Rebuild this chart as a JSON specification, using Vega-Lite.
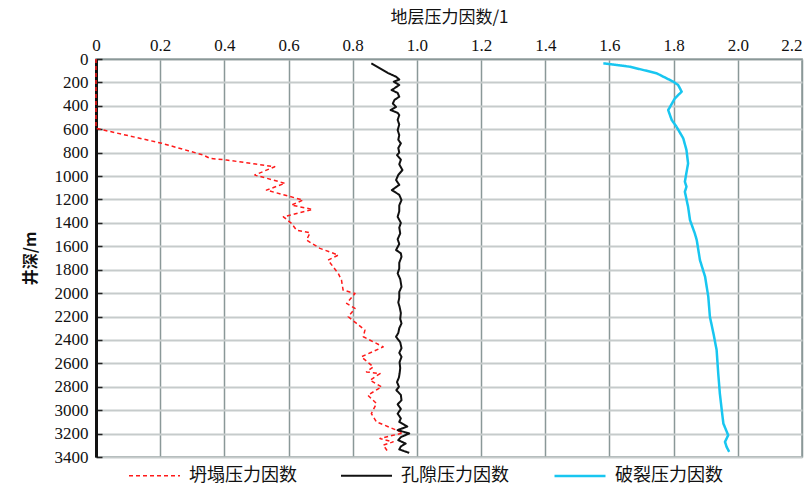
{
  "$schema": "https://vega.github.io/schema/vega-lite/v6.json",
  "width": 706,
  "height": 398,
  "autosize": {"type": "none"},
  "padding": {"left": 96, "top": 59, "right": 8, "bottom": 31},
  "background": "white",
  "config": {
    "view": {"stroke": "#8a9898", "strokeWidth": 1.5},
    "font": "Liberation Serif"
  },
  "data": {
    "values": [
      {"s": "坍塌压力因数", "d": 0, "v": 0},
      {"s": "坍塌压力因数", "d": 592, "v": 0},
      {"s": "坍塌压力因数", "d": 720, "v": 0.205},
      {"s": "坍塌压力因数", "d": 820, "v": 0.334},
      {"s": "坍塌压力因数", "d": 849, "v": 0.355},
      {"s": "坍塌压力因数", "d": 863, "v": 0.407},
      {"s": "坍塌压力因数", "d": 920, "v": 0.557},
      {"s": "坍塌压力因数", "d": 991, "v": 0.495},
      {"s": "坍塌压力因数", "d": 1062, "v": 0.589},
      {"s": "坍塌压力因数", "d": 1120, "v": 0.531},
      {"s": "坍塌压力因数", "d": 1205, "v": 0.645},
      {"s": "坍塌压力因数", "d": 1248, "v": 0.609},
      {"s": "坍塌压力因数", "d": 1285, "v": 0.675},
      {"s": "坍塌压力因数", "d": 1348, "v": 0.584},
      {"s": "坍塌压力因数", "d": 1404, "v": 0.609},
      {"s": "坍塌压力因数", "d": 1462, "v": 0.625},
      {"s": "坍塌压力因数", "d": 1485, "v": 0.667},
      {"s": "坍塌压力因数", "d": 1547, "v": 0.656},
      {"s": "坍塌压力因数", "d": 1618, "v": 0.698},
      {"s": "坍塌压力因数", "d": 1675, "v": 0.755},
      {"s": "坍塌压力因数", "d": 1718, "v": 0.723},
      {"s": "坍塌压力因数", "d": 1832, "v": 0.755},
      {"s": "坍塌压力因数", "d": 1889, "v": 0.765},
      {"s": "坍塌压力因数", "d": 1974, "v": 0.770},
      {"s": "坍塌压力因数", "d": 2003, "v": 0.807},
      {"s": "坍塌压力因数", "d": 2088, "v": 0.781},
      {"s": "坍塌压力因数", "d": 2131, "v": 0.807},
      {"s": "坍塌压力因数", "d": 2202, "v": 0.786},
      {"s": "坍塌压力因数", "d": 2259, "v": 0.812},
      {"s": "坍塌压力因数", "d": 2316, "v": 0.838},
      {"s": "坍塌压力因数", "d": 2373, "v": 0.833},
      {"s": "坍塌压力因数", "d": 2459, "v": 0.895},
      {"s": "坍塌压力因数", "d": 2544, "v": 0.827},
      {"s": "坍塌压力因数", "d": 2630, "v": 0.864},
      {"s": "坍塌压力因数", "d": 2673, "v": 0.843},
      {"s": "坍塌压力因数", "d": 2687, "v": 0.885},
      {"s": "坍塌压力因数", "d": 2744, "v": 0.854},
      {"s": "坍塌压力因数", "d": 2801, "v": 0.890},
      {"s": "坍塌压力因数", "d": 2872, "v": 0.847},
      {"s": "坍塌压力因数", "d": 2943, "v": 0.874},
      {"s": "坍塌压力因数", "d": 3029, "v": 0.858},
      {"s": "坍塌压力因数", "d": 3100, "v": 0.874},
      {"s": "坍塌压力因数", "d": 3194, "v": 0.957},
      {"s": "坍塌压力因数", "d": 3242, "v": 0.885},
      {"s": "坍塌压力因数", "d": 3271, "v": 0.926},
      {"s": "坍塌压力因数", "d": 3299, "v": 0.895},
      {"s": "坍塌压力因数", "d": 3356, "v": 0.910},
      {"s": "孔隙压力因数", "d": 37, "v": 0.858},
      {"s": "孔隙压力因数", "d": 80, "v": 0.885},
      {"s": "孔隙压力因数", "d": 120, "v": 0.910},
      {"s": "孔隙压力因数", "d": 151, "v": 0.935},
      {"s": "孔隙压力因数", "d": 175, "v": 0.945},
      {"s": "孔隙压力因数", "d": 194, "v": 0.928},
      {"s": "孔隙压力因数", "d": 222, "v": 0.945},
      {"s": "孔隙压力因数", "d": 250, "v": 0.930},
      {"s": "孔隙压力因数", "d": 265, "v": 0.921},
      {"s": "孔隙压力因数", "d": 290, "v": 0.940},
      {"s": "孔隙压力因数", "d": 322, "v": 0.945},
      {"s": "孔隙压力因数", "d": 350, "v": 0.930},
      {"s": "孔隙压力因数", "d": 380, "v": 0.925},
      {"s": "孔隙压力因数", "d": 410, "v": 0.935},
      {"s": "孔隙压力因数", "d": 436, "v": 0.918},
      {"s": "孔隙压力因数", "d": 460, "v": 0.940},
      {"s": "孔隙压力因数", "d": 479, "v": 0.945},
      {"s": "孔隙压力因数", "d": 520, "v": 0.940},
      {"s": "孔隙压力因数", "d": 560, "v": 0.945},
      {"s": "孔隙压力因数", "d": 607, "v": 0.940},
      {"s": "孔隙压力因数", "d": 650, "v": 0.945},
      {"s": "孔隙压力因数", "d": 690, "v": 0.942},
      {"s": "孔隙压力因数", "d": 721, "v": 0.950},
      {"s": "孔隙压力因数", "d": 760, "v": 0.942},
      {"s": "孔隙压力因数", "d": 800, "v": 0.945},
      {"s": "孔隙压力因数", "d": 821, "v": 0.938},
      {"s": "孔隙压力因数", "d": 860, "v": 0.950},
      {"s": "孔隙压力因数", "d": 900, "v": 0.945},
      {"s": "孔隙压力因数", "d": 949, "v": 0.955},
      {"s": "孔隙压力因数", "d": 990, "v": 0.942},
      {"s": "孔隙压力因数", "d": 1034, "v": 0.935},
      {"s": "孔隙压力因数", "d": 1075, "v": 0.945},
      {"s": "孔隙压力因数", "d": 1120, "v": 0.922},
      {"s": "孔隙压力因数", "d": 1160, "v": 0.945},
      {"s": "孔隙压力因数", "d": 1205, "v": 0.952},
      {"s": "孔隙压力因数", "d": 1250, "v": 0.945},
      {"s": "孔隙压力因数", "d": 1300, "v": 0.945},
      {"s": "孔隙压力因数", "d": 1348, "v": 0.940},
      {"s": "孔隙压力因数", "d": 1400, "v": 0.950},
      {"s": "孔隙压力因数", "d": 1440, "v": 0.945},
      {"s": "孔隙压力因数", "d": 1490, "v": 0.948},
      {"s": "孔隙压力因数", "d": 1540, "v": 0.940},
      {"s": "孔隙压力因数", "d": 1580, "v": 0.945},
      {"s": "孔隙压力因数", "d": 1632, "v": 0.935},
      {"s": "孔隙压力因数", "d": 1660, "v": 0.950},
      {"s": "孔隙压力因数", "d": 1690, "v": 0.952},
      {"s": "孔隙压力因数", "d": 1740, "v": 0.945},
      {"s": "孔隙压力因数", "d": 1790, "v": 0.945},
      {"s": "孔隙压力因数", "d": 1832, "v": 0.940},
      {"s": "孔隙压力因数", "d": 1880, "v": 0.948},
      {"s": "孔隙压力因数", "d": 1946, "v": 0.952},
      {"s": "孔隙压力因数", "d": 1990, "v": 0.945},
      {"s": "孔隙压力因数", "d": 2040, "v": 0.945},
      {"s": "孔隙压力因数", "d": 2080, "v": 0.942},
      {"s": "孔隙压力因数", "d": 2117, "v": 0.946},
      {"s": "孔隙压力因数", "d": 2170, "v": 0.950},
      {"s": "孔隙压力因数", "d": 2220, "v": 0.948},
      {"s": "孔隙压力因数", "d": 2259, "v": 0.952},
      {"s": "孔隙压力因数", "d": 2300, "v": 0.945},
      {"s": "孔隙压力因数", "d": 2340, "v": 0.942},
      {"s": "孔隙压力因数", "d": 2373, "v": 0.935},
      {"s": "孔隙压力因数", "d": 2420, "v": 0.948},
      {"s": "孔隙压力因数", "d": 2470, "v": 0.952},
      {"s": "孔隙压力因数", "d": 2510, "v": 0.945},
      {"s": "孔隙压力因数", "d": 2544, "v": 0.952},
      {"s": "孔隙压力因数", "d": 2590, "v": 0.946},
      {"s": "孔隙压力因数", "d": 2640, "v": 0.948},
      {"s": "孔隙压力因数", "d": 2687, "v": 0.946},
      {"s": "孔隙压力因数", "d": 2720, "v": 0.944},
      {"s": "孔隙压力因数", "d": 2760, "v": 0.938},
      {"s": "孔隙压力因数", "d": 2800, "v": 0.944},
      {"s": "孔隙压力因数", "d": 2829, "v": 0.936},
      {"s": "孔隙压力因数", "d": 2870, "v": 0.950},
      {"s": "孔隙压力因数", "d": 2915, "v": 0.952},
      {"s": "孔隙压力因数", "d": 2950, "v": 0.940},
      {"s": "孔隙压力因数", "d": 2990, "v": 0.950},
      {"s": "孔隙压力因数", "d": 3030, "v": 0.940},
      {"s": "孔隙压力因数", "d": 3070, "v": 0.950},
      {"s": "孔隙压力因数", "d": 3100, "v": 0.945},
      {"s": "孔隙压力因数", "d": 3140, "v": 0.970},
      {"s": "孔隙压力因数", "d": 3170, "v": 0.940},
      {"s": "孔隙压力因数", "d": 3199, "v": 0.976},
      {"s": "孔隙压力因数", "d": 3230, "v": 0.950},
      {"s": "孔隙压力因数", "d": 3256, "v": 0.942},
      {"s": "孔隙压力因数", "d": 3285, "v": 0.965},
      {"s": "孔隙压力因数", "d": 3310, "v": 0.950},
      {"s": "孔隙压力因数", "d": 3335, "v": 0.945},
      {"s": "孔隙压力因数", "d": 3365, "v": 0.976},
      {"s": "破裂压力因数", "d": 37, "v": 1.581},
      {"s": "破裂压力因数", "d": 66, "v": 1.664},
      {"s": "破裂压力因数", "d": 122, "v": 1.747},
      {"s": "破裂压力因数", "d": 194, "v": 1.799},
      {"s": "破裂压力因数", "d": 222, "v": 1.814},
      {"s": "破裂压力因数", "d": 279, "v": 1.825},
      {"s": "破裂压力因数", "d": 336, "v": 1.804},
      {"s": "破裂压力因数", "d": 436, "v": 1.783},
      {"s": "破裂压力因数", "d": 521, "v": 1.794},
      {"s": "破裂压力因数", "d": 579, "v": 1.809},
      {"s": "破裂压力因数", "d": 678, "v": 1.830},
      {"s": "破裂压力因数", "d": 778, "v": 1.840},
      {"s": "破裂压力因数", "d": 892, "v": 1.845},
      {"s": "破裂压力因数", "d": 1048, "v": 1.835},
      {"s": "破裂压力因数", "d": 1091, "v": 1.840},
      {"s": "破裂压力因数", "d": 1134, "v": 1.835},
      {"s": "破裂压力因数", "d": 1262, "v": 1.845},
      {"s": "破裂压力因数", "d": 1376, "v": 1.851},
      {"s": "破裂压力因数", "d": 1490, "v": 1.866},
      {"s": "破裂压力因数", "d": 1547, "v": 1.872},
      {"s": "破裂压力因数", "d": 1632, "v": 1.877},
      {"s": "破裂压力因数", "d": 1718, "v": 1.882},
      {"s": "破裂压力因数", "d": 1860, "v": 1.898},
      {"s": "破裂压力因数", "d": 2031, "v": 1.908},
      {"s": "破裂压力因数", "d": 2202, "v": 1.913},
      {"s": "破裂压力因数", "d": 2344, "v": 1.924},
      {"s": "破裂压力因数", "d": 2487, "v": 1.934},
      {"s": "破裂压力因数", "d": 2687, "v": 1.939},
      {"s": "破裂压力因数", "d": 2858, "v": 1.944},
      {"s": "破裂压力因数", "d": 3000, "v": 1.950},
      {"s": "破裂压力因数", "d": 3114, "v": 1.955},
      {"s": "破裂压力因数", "d": 3214, "v": 1.970},
      {"s": "破裂压力因数", "d": 3271, "v": 1.960},
      {"s": "破裂压力因数", "d": 3313, "v": 1.965},
      {"s": "破裂压力因数", "d": 3356, "v": 1.973}
    ]
  },
  "mark": {"type": "line", "strokeJoin": "round", "strokeCap": "butt"},
  "encoding": {
    "x": {
      "field": "v", "type": "quantitative",
      "scale": {"domain": [0, 2.2], "nice": false, "zero": false},
      "axis": {
        "orient": "top", "title": "地层压力因数/1", "titleFont": "Noto Sans CJK SC", "titleFontWeight": "normal", "titleColor": "#111", "titleFontSize": 17, "titlePadding": 10,
        "values": [0, 0.2, 0.4, 0.6, 0.8, 1.0, 1.2, 1.4, 1.6, 1.8, 2.0, 2.2],
        "labelExpr": "datum.value == 0 ? '0' : format(datum.value, '.1f')",
        "labelFont": "Times New Roman", "labelFontSize": 17, "labelColor": "#111",
        "labelAlign": {"condition": {"test": "datum.value > 2.1", "value": "right"}, "value": "center"},
        "ticks": false, "labelPadding": 5, "labelFlush": false, "labelBound": false,
        "domainColor": "#8a9898", "domainWidth": 1.5,
        "grid": true, "gridColor": "#8a9898", "gridWidth": 1.5, "gridOpacity": 1
      }
    },
    "y": {
      "field": "d", "type": "quantitative",
      "scale": {"domain": [0, 3400], "reverse": true, "nice": false},
      "axis": {
        "title": "井深/m", "titleFont": "Noto Sans CJK SC", "titleColor": "#111", "titleFontSize": 16, "titleFontWeight": "bold", "titlePadding": 16,
        "values": [0, 200, 400, 600, 800, 1000, 1200, 1400, 1600, 1800, 2000, 2200, 2400, 2600, 2800, 3000, 3200, 3400],
        "format": "d",
        "labelFont": "Times New Roman", "labelFontSize": 17, "labelColor": "#111",
        "tickSize": -6, "tickColor": "#222", "tickWidth": 1.5, "labelPadding": 14, "labelFlush": false,
        "domainColor": "#111", "domainWidth": 3,
        "grid": true, "gridColor": "#c6cbcb", "gridWidth": 2, "gridOpacity": 1
      }
    },
    "order": {"field": "d", "type": "quantitative"},
    "color": {
      "field": "s", "type": "nominal",
      "scale": {"domain": ["坍塌压力因数", "孔隙压力因数", "破裂压力因数"], "range": ["#ff1a1a", "#111111", "#18c6f0"]},
      "legend": {
        "orient": "none", "legendX": 32, "legendY": 390, "direction": "horizontal",
        "title": null, "symbolType": "stroke", "symbolSize": 2600, "labelFont": "Noto Sans CJK SC",
        "labelFontSize": 18, "labelColor": "#111", "labelOffset": 8, "columnPadding": 40, "labelLimit": 200
      }
    },
    "strokeDash": {
      "field": "s", "type": "nominal",
      "scale": {"domain": ["坍塌压力因数", "孔隙压力因数", "破裂压力因数"], "range": [[4, 3], [1, 0], [1, 0]]},
      "legend": null
    },
    "strokeWidth": {
      "field": "s", "type": "nominal",
      "scale": {"domain": ["坍塌压力因数", "孔隙压力因数", "破裂压力因数"], "range": [1.5, 2.5, 5]},
      "legend": null
    }
  }
}
